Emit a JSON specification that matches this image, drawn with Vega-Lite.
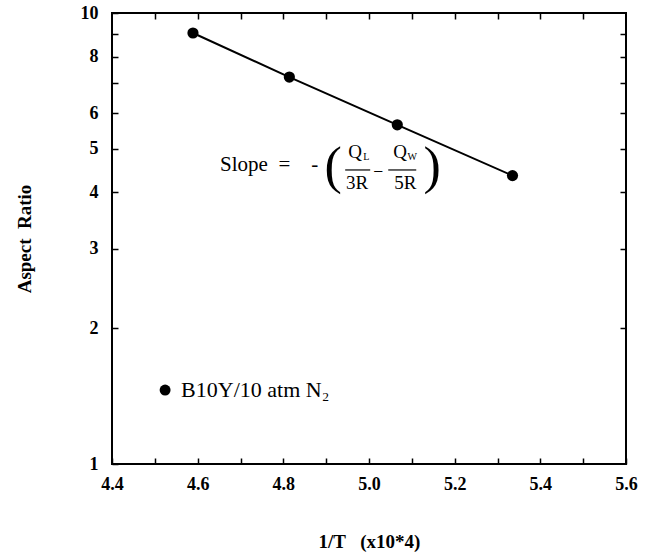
{
  "$schema": "https://vega.github.io/schema/vega-lite/v6.json",
  "width": 514,
  "height": 451,
  "autosize": "none",
  "padding": {"left": 112, "top": 13, "right": 21, "bottom": 96},
  "background": "white",
  "config": {
    "view": {"stroke": "black", "strokeWidth": 2},
    "font": "Liberation Serif",
    "axis": {
      "grid": false,
      "domain": false,
      "tickColor": "black",
      "tickWidth": 1.5,
      "tickSize": -6,
      "labelColor": "black",
      "labelFont": "Liberation Serif",
      "labelFontWeight": "bold",
      "labelFontSize": 18,
      "titleColor": "black",
      "titleFont": "Liberation Serif",
      "titleFontWeight": "bold",
      "titleFontSize": 19
    }
  },
  "datasets": {
    "runs": [
      {"invT": 4.589, "aspect": 9.03},
      {"invT": 4.814, "aspect": 7.21},
      {"invT": 5.066, "aspect": 5.65},
      {"invT": 5.335, "aspect": 4.36}
    ]
  },
  "resolve": {"axis": {"x": "independent", "y": "independent"}},
  "layer": [
    {
      "data": {"name": "runs"},
      "mark": {"type": "line", "color": "black", "strokeWidth": 2},
      "encoding": {
        "x": {
          "field": "invT", "type": "quantitative",
          "scale": {"domain": [4.4, 5.6], "nice": false, "zero": false},
          "axis": {
            "orient": "bottom",
            "title": "1/T\u00a0\u00a0\u00a0(x10*4)",
            "titlePadding": 39,
            "values": [4.4, 4.5, 4.6, 4.7, 4.8, 4.9, 5.0, 5.1, 5.2, 5.3, 5.4, 5.5, 5.6],
            "format": ".1f",
            "labelExpr": "round(datum.value * 10) % 2 == 0 ? datum.label : ''",
            "labelPadding": 17,
            "labelFlush": false,
            "labelOverlap": false
          }
        },
        "y": {
          "field": "aspect", "type": "quantitative",
          "scale": {"type": "log", "domain": [1, 10], "nice": false},
          "axis": {
            "orient": "left",
            "title": "Aspect\u00a0\u00a0Ratio",
            "titlePadding": 46,
            "values": [1, 2, 3, 4, 5, 6, 7, 8, 9, 10],
            "labelExpr": "indexof([7, 9], datum.value) >= 0 ? '' : datum.label",
            "labelPadding": 20,
            "labelFlush": false,
            "labelOverlap": false
          }
        }
      }
    },
    {
      "data": {"name": "runs"},
      "mark": {"type": "point", "filled": true, "color": "black", "opacity": 1, "size": 125, "shape": "circle"},
      "encoding": {
        "x": {
          "field": "invT", "type": "quantitative",
          "axis": {
            "orient": "top",
            "title": null,
            "labels": false,
            "values": [4.5, 4.6, 4.7, 4.8, 4.9, 5.0, 5.1, 5.2, 5.3, 5.4, 5.5]
          }
        },
        "y": {
          "field": "aspect", "type": "quantitative",
          "axis": {
            "orient": "right",
            "title": null,
            "labels": false,
            "values": [2, 3, 4, 5, 6, 7, 8, 9]
          }
        }
      }
    },
    {
      "data": {"values": [{"invT": 4.524, "aspect": 1.459, "label": "B10Y/10 atm N₂"}]},
      "layer": [
        {
          "mark": {"type": "point", "filled": true, "color": "black", "opacity": 1, "size": 120, "shape": "circle"},
          "encoding": {
            "x": {"field": "invT", "type": "quantitative", "axis": null},
            "y": {"field": "aspect", "type": "quantitative", "axis": null}
          }
        },
        {
          "mark": {"type": "text", "align": "left", "baseline": "middle", "dx": 16, "font": "Liberation Serif", "fontSize": 22, "color": "black"},
          "encoding": {
            "x": {"field": "invT", "type": "quantitative", "axis": null},
            "y": {"field": "aspect", "type": "quantitative", "axis": null},
            "text": {"field": "label"}
          }
        }
      ]
    },
    {
      "data": {"values": [{"x": 4.6523, "y": 4.603, "t": "Slope\u00a0\u00a0=\u00a0\u00a0\u00a0\u00a0-"}]},
      "mark": {"type": "text", "align": "left", "baseline": "middle", "font": "Liberation Serif", "fontSize": 21, "color": "black"},
      "encoding": {
        "x": {"field": "x", "type": "quantitative", "axis": null},
        "y": {"field": "y", "type": "quantitative", "axis": null},
        "text": {"field": "t"}
      }
    },
    {
      "data": {"values": [
        {"x": 4.9164, "y": 4.556, "t": "(", "size": 52},
        {"x": 5.1477, "y": 4.556, "t": ")", "size": 52},
        {"x": 4.9678, "y": 4.918, "t": "Q", "size": 19},
        {"x": 4.9935, "y": 4.794, "t": "L", "size": 10},
        {"x": 4.9724, "y": 4.198, "t": "3R", "size": 19},
        {"x": 5.0215, "y": 4.487, "t": "–", "size": 16},
        {"x": 5.0729, "y": 4.918, "t": "Q", "size": 19},
        {"x": 5.1009, "y": 4.794, "t": "W", "size": 10},
        {"x": 5.0846, "y": 4.198, "t": "5R", "size": 19}
      ]},
      "mark": {"type": "text", "align": "center", "baseline": "middle", "font": "Liberation Serif", "color": "black"},
      "encoding": {
        "x": {"field": "x", "type": "quantitative", "axis": null},
        "y": {"field": "y", "type": "quantitative", "axis": null},
        "text": {"field": "t"},
        "size": {"field": "size", "type": "quantitative", "scale": null}
      }
    },
    {
      "data": {"values": [
        {"x1": 4.9444, "x2": 5.0028, "y": 4.487},
        {"x1": 5.0449, "x2": 5.1103, "y": 4.487}
      ]},
      "mark": {"type": "rule", "color": "black", "strokeWidth": 1.2},
      "encoding": {
        "x": {"field": "x1", "type": "quantitative", "axis": null},
        "x2": {"field": "x2"},
        "y": {"field": "y", "type": "quantitative", "axis": null}
      }
    }
  ]
}
